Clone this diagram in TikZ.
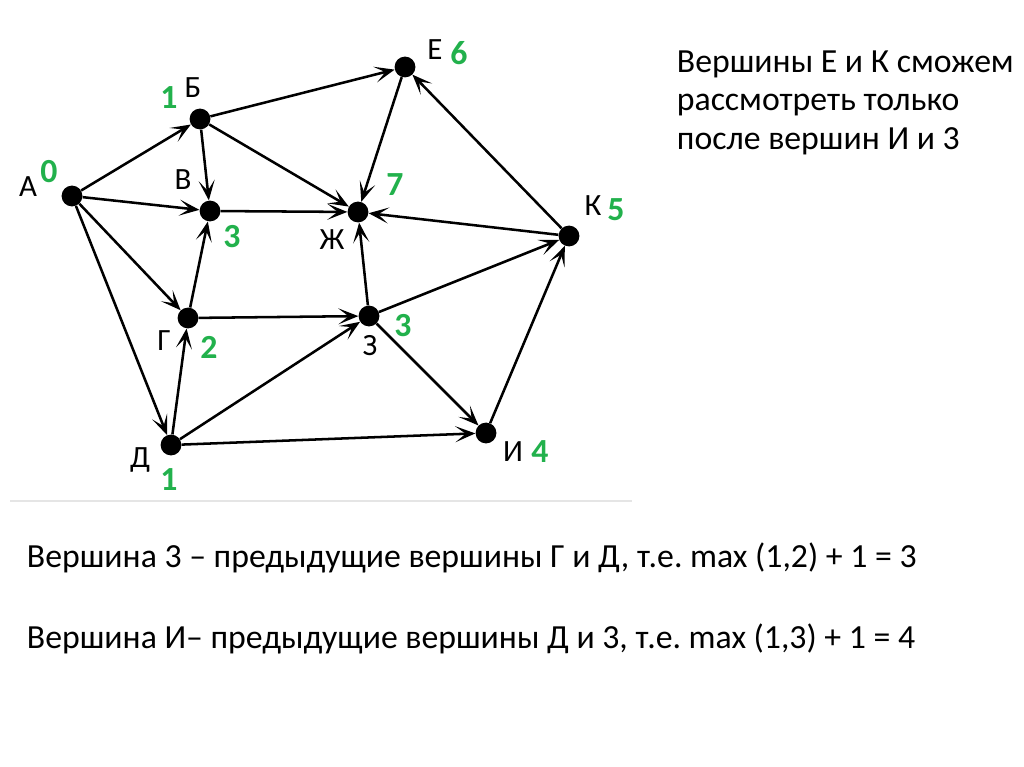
\documentclass[tikz,border=0pt]{standalone}
\usepackage{fontspec}
\setmainfont{Carlito}
\usetikzlibrary{arrows.meta}
\definecolor{numgreen}{RGB}{34,177,76}
\frenchspacing

\begin{document}
\begin{tikzpicture}[x=0.025cm,y=-0.025cm,
    vertex/.style={circle, fill=black, inner sep=0pt, minimum size=0.52cm},
    edge/.style={-{Stealth[length=0.5cm,width=0.4cm,inset=0.26cm]}, line width=1.8pt},
    vname/.style={font=\fontsize{22}{24}\selectfont},
    vnum/.style={font=\fontsize{24}{26}\selectfont\bfseries, text=numgreen},
    note/.style={anchor=base west, font=\fontsize{24}{28}\selectfont}]
    \useasboundingbox (0,0) rectangle (1024,767);
    \draw[black!10, line width=1pt] (10,501) -- (632,501);

    % Vertices
    \node[vertex] (A) at (72,196) {};
    \node[vertex] (B) at (200,119) {};
    \node[vertex] (V) at (210,211) {};
    \node[vertex] (E) at (405,67) {};
    \node[vertex] (Zh) at (358,212) {};
    \node[vertex] (K) at (569,236) {};
    \node[vertex] (G) at (188,318) {};
    \node[vertex] (Z) at (369,316) {};
    \node[vertex] (D) at (171,445) {};
    \node[vertex] (I) at (486,433) {};

    % Names and green numbers
    \node[vname] (lA) at (28,187) {А};
    \node[vnum] (nA) at (49,172) {0};
    \node[vname] (lB) at (193,88) {Б};
    \node[vnum] (nB) at (169,98) {1};
    \node[vname] (lV) at (183,180) {В};
    \node[vnum] (nV) at (232,237) {3};
    \node[vname] (lE) at (435,50) {Е};
    \node[vnum] (nE) at (459,53) {6};
    \node[vname] (lZh) at (332,240) {Ж};
    \node[vnum] (nZh) at (395,185) {7};
    \node[vname] (lK) at (593,206) {К};
    \node[vnum] (nK) at (616,210) {5};
    \node[vname] (lG) at (164,341) {Г};
    \node[vnum] (nG) at (209,347) {2};
    \node[vname] (lZ) at (370,346) {З};
    \node[vnum] (nZ) at (403,326) {3};
    \node[vname] (lD) at (140,460) {Д};
    \node[vnum] (nD) at (169,480) {1};
    \node[vname] (lI) at (513,452) {И};
    \node[vnum] (nI) at (540,452) {4};

    % Arcs
    \draw[edge] (A) -- (B);
    \draw[edge] (A) -- (V);
    \draw[edge] (A) -- (G);
    \draw[edge] (A) -- (D);
    \draw[edge] (B) -- (E);
    \draw[edge] (B) -- (V);
    \draw[edge] (B) -- (Zh);
    \draw[edge] (V) -- (Zh);
    \draw[edge] (G) -- (V);
    \draw[edge] (G) -- (Z);
    \draw[edge] (D) -- (G);
    \draw[edge] (D) -- (Z);
    \draw[edge] (D) -- (I);
    \draw[edge] (Z) -- (Zh);
    \draw[edge] (Z) -- (K);
    \draw[edge] (Z) -- (I);
    \draw[edge] (I) -- (K);
    \draw[edge] (K) -- (Zh);
    \draw[edge] (K) -- (E);
    \draw[edge] (E) -- (Zh);

    % Notes
    \node[note] (t1) at (672,73) {Вершины Е и К сможем};
    \node[note] (t2) at (672,111) {рассмотреть только};
    \node[note] (t3) at (672,150) {после вершин И и 3};
    \node[note] (t4) at (22,567)
        {Вершина 3 – предыдущие вершины Г и Д, т.е. max (1,2) + 1 = 3};
    \node[note] (t5) at (22,648)
        {Вершина И– предыдущие вершины Д и 3, т.е. max (1,3) + 1 = 4};
\end{tikzpicture}
\end{document}
